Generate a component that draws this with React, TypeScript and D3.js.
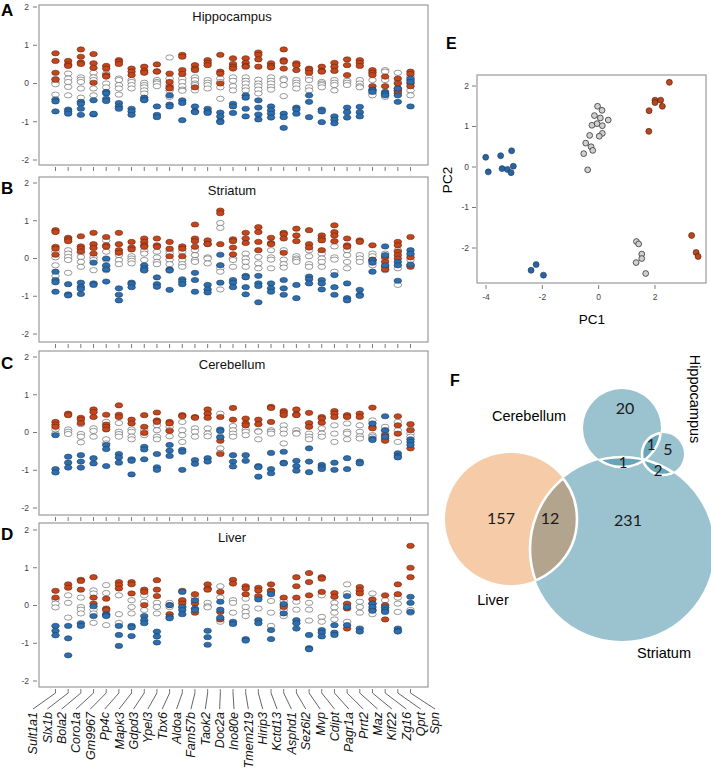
import React from "react";
import * as d3 from "d3";

const genes = ["Sult1a1","Slx1b","Bola2","Coro1a","Gm9967","Pp4c","Mapk3","Gdpd3","Ypel3","Tbx6","Aldoa","Fam57b","Taok2","Doc2a","Ino80e","Tmem219","Hirip3","Kctd13","Asphd1","Sez6l2","Mvp","Cdipt","Pagr1a","Prrt2","Maz","Kif22","Zg16","Qprt","Spn"];
const yTicks = [2, 1, 0, -1, -2];
const panelTitles = ["Hippocampus", "Striatum", "Cerebellum", "Liver"];
const panelLetters = ["A", "B", "C", "D"];

// Panel A – Hippocampus
const hippoRed = [[0.79,0.59,0.28,0.1],[0.59,0.5,0.46],[0.89,0.7,0.55,0.51],[0.77,0.53,0.41,0.02],[0.46,0.39,0.22,0.18],[0.61,0.57,0.51],[0.39,0.31,0.22],[0.44,0.33,0.28],[0.5,0.32,0.31],[0.26,0.04,-0.09,-0.13],[0.75,0.7,0.35,0.25],[0.48,0.39,0.35,-0.1],[0.61,0.54,0.48],[0.75,0.31,0.26,0],[0.66,0.51,0.44,0.39],[0.66,0.54,0.46,0.44],[0.81,0.75,0.63,0.44],[0.53,0.46,0.42],[0.89,0.61,0.57,0.39],[0.53,0.48,0.35],[0.39,0.35,0.28],[0.44,0.33,0.31],[0.54,0.44,0.33],[0.63,0.48,0.22],[0.61,0.54,0.46],[0.35,0.28,0.22,-0.07],[0.18,-0.07,-0.28],[0.13,0,-0.13,-0.19,-0.25],[0.31,0.25,0.09,0,-0.07]];
const hippoWhite = [[0.12,0.03,-0.02,-0.29],[0.26,0.13,0.04,-0.09,-0.31],[0.16,0.1,0.04,-0.13,-0.37],[0.28,0.16,0.09,-0.13,-0.31],[0.26,0,-0.1],[0.13,0.09,-0.04,-0.13,-0.29],[0.09,0.04,-0.04,-0.13],[0.02,-0.04,-0.1,-0.18,-0.26],[0.09,0.04,0,-0.07],[0.68,0.13,-0.04,-0.18,-0.35],[0.13,0.04,-0.07,-0.16,-0.19],[0.16,0.09,0,-0.04,-0.18],[0.09,0.02,-0.04,-0.13],[0.13,0.04,-0.1,-0.4],[0.16,0.07,-0.07,-0.18],[0.16,0.07,0,-0.1,-0.18],[0.1,0,-0.07,-0.16,-0.26],[0.16,0.07,0,-0.09,-0.16],[0.13,0.09,-0.04,-0.33],[0.09,0.02,-0.04,-0.13],[0.16,0.09,-0.1,-0.18],[0.04,0,-0.04,-0.1],[0.09,0.02,-0.04,-0.18],[0.07,0.02,-0.04],[0.09,0,-0.07,-0.1],[0.31,0.09,-0.26,-0.31],[0.35,0.31,0.09,-0.35],[0.28,0.04,-0.18],[0.18,-0.18,-0.31]];
const hippoBlue = [[-0.42,-0.47,-0.73],[-0.68,-0.73,-0.79],[-0.48,-0.53,-0.66,-0.82],[-0.44,-0.81,-0.79],[-0.22,-0.26,-0.4,-0.46],[-0.51,-0.6,-0.66],[-0.66,-0.73,-0.82],[-0.37,-0.42,-0.44],[-0.6,-0.82,-0.88],[-0.31,-0.55,-0.6],[-0.44,-0.51,-0.96],[-0.6,-0.73,-0.75],[-0.66,-0.73,-0.77],[-0.76,-0.86,-0.98,-1.01],[-0.53,-0.6,-0.77],[-0.31,-0.37,-0.66,-0.86],[-0.44,-0.63,-0.81,-0.94],[-0.6,-0.7,-0.79,-0.89],[-0.79,-0.88,-1.16],[-0.63,-0.68,-0.79],[-0.31,-0.48,-0.88],[-0.68,-0.73,-1.01],[-0.86,-0.95,-1.04],[-0.63,-0.75,-0.89],[-0.61,-0.75,-0.86],[-0.16,-0.18,-0.22],[-0.22,-0.26,-0.31],[-0.13,-0.31,-0.48],[0.13,0.04,-0.6]];

// Panel B – Striatum
const striRed = [[0.75,0.7,0.31,0.26,0.1],[0.55,0.51,0.46],[0.59,0.32,0.26,0.19],[0.68,0.38,0.28,0.13],[0.57,0.35,0.31],[0.68,0.38,0.22,0.15],[0.44,0.29,0.24],[0.53,0.44,0.35,0.31],[0.53,0.35,0.31],[0.44,0.26,0.06],[0.32,0.26,0.06],[0.9,0.53,0.46,0.31],[0.48,0.39,0.38],[1.27,1.2,0.38],[0.51,0.46,0.29,0.11],[0.68,0.53,0.41],[0.83,0.7,0.44,0.22],[0.55,0.41,0.38],[0.68,0.64,0.53,0.15],[0.79,0.61,0.46],[0.75,0.38,0.29],[0.61,0.53,0.48,0.22],[0.88,0.7,0.61,0.46],[0.53,0.35,0.31],[0.48,0.44],[0.35,-0.03,-0.06],[0.04,-0.09,-0.22,-0.29],[0.44,0.35,0.18,0.09,0],[0.57,0.03,-0.18,-0.22]];
const striWhite = [[0.18,0.03,-0.18,-0.46],[0.22,0.13,0.04,-0.04,-0.38],[0.15,0.04,-0.09,-0.22],[0.03,-0.04,-0.31],[0.48,0.18,-0.03,-0.22,-0.31],[0.09,-0.04,-0.15],[0.06,0,-0.06,-0.13],[0.2,0.13,-0.04,-0.32],[0.18,0.03,-0.09,-0.15],[0.2,0.13,-0.03,-0.15],[0.18,-0.04,-0.15,-0.22],[0.22,0.09,-0.04,-0.09],[0.03,0,-0.13],[0.94,0.81,-0.18,-0.26,-0.35,-0.82],[0,-0.04,-0.22],[0.13,0,-0.09,-0.22],[0.04,-0.13,-0.26],[0.22,0.03,-0.03,-0.26],[0.22,-0.03,-0.15,-0.24],[0.06,0,-0.04,-0.09],[0.22,0.06,-0.15,-0.22],[0.13,0,-0.09,-0.22],[0.32,0.03,-0.03,-0.35],[0.22,0.09,-0.09,-0.26],[0.09,0,-0.09],[0.13,0.06,-0.18],[0.13,0,-0.31],[0.22,-0.26,-0.7],[0.09,-0.04]];
const striBlue = [[-0.35,-0.57,-0.63,-0.88],[-0.68,-0.95,-0.98],[-0.64,-0.75,-0.81,-0.94],[-0.11,-0.66,-0.7],[0,-0.18,-0.29,-0.61],[-0.79,-0.96,-1.11],[-0.64,-0.68,-0.76],[-0.18,-0.26,-0.31],[-0.5,-0.68,-0.75],[-0.29,-0.32,-0.83],[-0.55,-0.61,-0.68],[-0.38,-0.57,-0.88],[-0.7,-0.82,-0.9],[0.1,-0.18,-0.64],[-0.57,-0.64,-0.76],[-0.46,-0.5,-0.76,-0.95],[-0.46,-0.66,-0.73,-1.16],[-0.66,-0.79,-0.88],[-0.57,-0.79,-0.96],[-0.7,-1.05],[-0.48,-0.55,-0.66],[-0.57,-0.66,-0.82],[-0.44,-0.76,-0.96],[-0.66,-1.05,-1.11],[-0.83,-0.96,-0.99],[-0.04,-0.11,-0.35],[0.32,0.09,-0.18],[-0.09,-0.18,-0.59],[0.22,0.13,-0.16]];

// Panel C – Cerebellum
const cereRed = [[0.28,0.21,0.15],[0.5,0.46],[0.39,0.34,0.25],[0.61,0.54,0.41],[0.47,0.21,0.15,0.08],[0.72,0.47,0.41],[0.34,0.24],[0.46,0.15,-0.01],[0.53,0.32,0.28],[0.28,0.24,0.04],[0.46,0.43],[0.41,0.39],[0.61,0.5,0.39],[0.41,-0.22,-0.57],[0.65,0.34],[0.37,0.24,0.19],[0.34,0.22],[0.68,0.65,0.28],[0.57,0.52,0.46],[0.61,0.48,0.46],[0.52,0.25,0.15],[0.41,0.37,0.26],[0.57,0.5,0.41],[0.46,0.41],[0.5,0.41],[0.66,0.15,0.11],[-0.07,-0.16,-0.22],[0.43,0.19,-0.03],[0.22,0.06,-0.42]];
const cereWhite = [[0.08,-0.03],[0.08,0.02,-0.04],[0.22,-0.04,-0.11,-0.26],[0.11,0.04,-0.11],[0.28,-0.18,-0.29],[0.25,0.02,-0.04,-0.11],[0.08,0.02,-0.11,-0.18],[0.06,-0.07],[0.19,0.06,-0.11,-0.18],[0.15,0.06,-0.1],[0.28,0.06,-0.07,-0.25],[0.11,0.02,-0.11],[0.11,-0.03,-0.1],[0.5,-0.11,-0.42,-0.54],[0.17,0.06,-0.03,-0.11],[0.08,0.02,-0.07],[0.04,0.02,-0.18],[0.06,0.02,-0.03],[0.19,0.08,-0.03,-0.29],[0.06,-0.01,-0.03],[-0.03,-0.11,-0.18],[0.11,-0.03,-0.11],[0.19,-0.03,-0.25],[0.24,0.02,-0.03,-0.18],[0.19,0.02,-0.1,-0.16],[0.32,-0.07,-0.11],[0.15,0.06,-0.03],[0.28,0.06,-0.25],[0.08,-0.03,-0.11]];
const cereBlue = [[-0.07,-0.97,-1.06],[-0.64,-0.8,-0.93],[-0.6,-0.77,-0.93],[-0.68,-0.82],[-0.33,-0.44,-0.89],[-0.57,-0.66,-0.8],[-0.71,-0.75,-1.11],[-0.38,-0.45,-0.71],[-0.57,-0.92,-0.99],[-0.33,-0.48,-0.62],[-0.46,-0.51,-0.99],[-0.73,-0.83],[-0.68,-0.77],[0.08,0.04,-0.13],[-0.6,-0.77,-0.9],[-0.6,-0.75],[-0.89,-0.92,-1.17],[-0.54,-0.97,-1.08],[-0.51,-0.8,-0.82],[-0.75,-0.89,-1.01],[-0.42,-0.77,-1.05],[-0.86,-0.92,-0.97],[-0.8,-0.99],[-0.68,-0.97],[-0.77,-0.82],[0.24,-0.16,-0.2],[0.43,0.06,-0.11],[-0.55,-0.62,-0.66],[-0.18,-0.25,-0.33]];

// Panel D – Liver
const liverRed = [[0.39,0.21],[0.56,0.47],[0.68,0.65,0.42],[0.75,0.21,0.05],[0.18,-0.08,-0.12],[0.62,0.54,0.45],[0.62,0.56,0.32],[0.42,0.36,0.01],[0.67,0.42,0.25],[0.01,-0.23],[0.39,0.14,0.05],[0.3,0.05,-0.19],[0.56,0.45,0.42],[0.36,-0.17,-0.37],[0.68,0.58],[0.51,0.45,0.3],[0.47,0.4,0.25],[0.56,0.4,0.36],[0.21,0.01,-0.04],[0.75,0.51,0.21],[0.86,0.62,0.27],[0.75,0.71,0.36],[0.33,0.23],[0.04,-0.08,-0.61],[0.49,0.4,0.32],[0.16,0.05,-0.11],[0.27,0.01,-0.37],[0.56,0.3],[1.58,1.0,0.75]];
const liverWhite = [[0.16,0.05,-0.05],[0.27,0.07,-0.32],[0.21,-0.04,-0.11,-0.21],[0.4,0.32,-0.11,-0.21,-0.46],[0.54,0.33,-0.52],[0.27,-0.23,-0.46],[0.14,-0.04,-0.21],[0.27,0.1,-0.12],[0.07,-0.04,-0.21],[0.07,-0.04],[0.1,-0.04],[0.21,0.1],[0.07,-0.02,-0.05],[0.51,0.21,-0.43],[0.14,0.07,-0.19],[0.18,-0.04,-0.17,-0.28],[0.21,-0.08],[0.12,-0.19,-0.54],[0.12,-0.12,-0.28],[0.1,-0.11],[0.07,-0.11,-0.4],[0.27,-0.3,-0.43],[0.07,-0.05,-0.19,-0.37],[0.56,0.32,0.05,-0.43],[0.1,-0.04,-0.19],[0.32,-0.23],[0.14,-0.04],[0.21,0.05,-0.17],[-0.12,-0.19]];
const liverBlue = [[-0.54,-0.67,-0.79],[-0.54,-0.87,-1.32],[-0.47,-0.54],[-0.02,-0.28],[-0.23,-0.25,-0.28],[-0.54,-0.78,-1.07],[-0.54,-0.58,-0.81],[-0.28,-0.39,-0.47],[-0.69,-0.82,-0.98],[0.01,-0.3,-0.34],[0.36,-0.04,-0.12,-0.23],[0.14,-0.08,-0.12],[-0.67,-0.84,-1.04],[0.1,-0.11,-0.32],[-0.43,-0.49],[-0.89,-0.93],[0.16,-0.39,-0.47],[0.3,-0.65,-0.89],[0.04,-0.21],[-0.39,-0.47,-0.61],[-0.78,-1.13,-1.16],[-0.65,-0.72,-0.82],[-0.52,-0.72,-0.78],[0.25,-0.04,-0.52],[-0.61,-0.69],[0.05,-0.04,-0.14],[-0.05,-0.12,-0.17],[-0.61,-0.67,-0.69],[0.23,0.07,-0.17]];

// Panel E – PCA
const pcaBlueX = [-4.01,-3.92,-3.48,-3.43,-3.24,-3.09,-3.03,-3.11,-2.40,-2.22,-1.96];
const pcaBlueY = [0.24,-0.12,0.28,-0.04,-0.06,0.40,0.02,-0.14,-2.55,-2.41,-2.67];
const pcaRedX = [2.51,1.79,2.0,2.0,2.2,2.26,1.78,3.30,3.46,3.53];
const pcaRedY = [2.09,1.39,1.65,1.59,1.65,1.50,0.88,-1.69,-2.11,-2.21];
const pcaGreyX = [-0.04,0.12,-0.15,0.06,0.34,-0.06,-0.24,0.13,-0.32,0.13,0.02,-0.46,-0.27,-0.21,-0.53,-0.39,1.34,1.42,1.53,1.53,1.33,1.67];
const pcaGreyY = [1.50,1.40,1.27,1.21,1.16,1.07,1.03,1.02,0.78,0.83,0.76,0.59,0.50,0.41,0.33,-0.07,-1.84,-1.90,-2.15,-2.26,-2.36,-2.63];
const pcaTicksX = [-4, -2, 0, 2];
const pcaTicksY = [-2, -1, 0, 1, 2];

// Panel F – Venn counts
const vennSetNames = ["Cerebellum", "Hippocampus", "Striatum", "Liver"];
const vennRegions = ["Cerebellum only", "Hippocampus only", "Striatum only", "Liver only", "Liver∩Striatum", "Cerebellum∩Striatum", "Cerebellum∩Hippocampus", "Hippocampus∩Striatum"];
const vennCounts = [20, 5, 231, 157, 12, 1, 1, 2];

// ---------- layout ----------
const W = 711, H = 773;
const FONT = "'Liberation Sans', Arial, sans-serif";
const plotLeft = 39, plotRight = 428;
const panels = [
  { y2: 7, ym2: 160, top: 5, bottom: 165, red: hippoRed, white: hippoWhite, blue: hippoBlue, titleY: 21, letterY: 16 },
  { y2: 183, ym2: 334, top: 177, bottom: 342, red: striRed, white: striWhite, blue: striBlue, titleY: 195, letterY: 194 },
  { y2: 357, ym2: 508, top: 351, bottom: 515, red: cereRed, white: cereWhite, blue: cereBlue, titleY: 369, letterY: 369 },
  { y2: 530, ym2: 681, top: 523, bottom: 687, red: liverRed, white: liverWhite, blue: liverBlue, titleY: 542, letterY: 540 },
];
const RED = "#c4471b", RED_S = "#6b2410";
const BLUE = "#2e6eae", BLUE_S = "#1b3f66";

const xGene = d3.scalePoint<string>().domain(genes).range([55.5, 410.5]);
const xLabel = d3.scalePoint<string>().domain(genes).range([33, 435]);

// PCA scales
const pcX = d3.scaleLinear().domain([-4, 2]).range([486, 655]);
const pcY = d3.scaleLinear().domain([-2, 2]).range([248, 86]);
const pcBox = { left: 477, right: 706, top: 75, bottom: 283 };

// Venn geometry (pixels)
const vennGeom: Record<string, { cx: number; cy: number; r: number }> = {
  Liver: { cx: 511, cy: 519, r: 66 },
  Striatum: { cx: 622, cy: 549, r: 92 },
  Cerebellum: { cx: 622, cy: 428, r: 39 },
  Hippocampus: { cx: 663, cy: 454, r: 21 },
};
const regionPos: [number, number][] = [[625, 414], [668, 455], [628, 526], [501, 524], [550, 524], [623, 468], [651, 450], [658, 476]];
const TEAL = "#9bc3cf", TEAL_D = "#68a5b8", PEACH = "#f6cba8", MIX = "#b3a48e";

function Panel({ p, idx }: { p: typeof panels[number]; idx: number }) {
  const y = d3.scaleLinear().domain([-2, 2]).range([p.ym2, p.y2]);
  const dots = (arr: number[][], fill: string, stroke: string, key: string) =>
    arr.flatMap((vals, i) =>
      vals.map((v, j) => (
        <ellipse key={`${key}-${i}-${j}`} cx={xGene(genes[i])} cy={y(v)} rx={3.8} ry={2.6} fill={fill} stroke={stroke} strokeWidth={0.6} />
      ))
    );
  return (
    <g>
      <rect x={plotLeft} y={p.top} width={plotRight - plotLeft} height={p.bottom - p.top} fill="none" stroke="#9a9a9a" strokeWidth={1.2} />
      {yTicks.map((t) => (
        <g key={t}>
          <line x1={33} x2={37} y1={y(t)} y2={y(t)} stroke="#555" strokeWidth={0.8} />
          <text x={29} y={y(t)} dy="0.35em" textAnchor="end" fontSize={8.5} fill="#444" fontFamily={FONT}>{t}</text>
        </g>
      ))}
      {genes.map((g) => (
        <line key={g} x1={xGene(g)} x2={xGene(g)} y1={p.bottom + 2} y2={p.bottom + 6} stroke="#555" strokeWidth={0.8} />
      ))}
      <text x={232} y={p.titleY} textAnchor="middle" fontSize={13} fontFamily={FONT} fill="#111">{panelTitles[idx]}</text>
      <text x={1} y={p.letterY} fontSize={17} fontWeight="bold" fontFamily={FONT} fill="#000">{panelLetters[idx]}</text>
      {dots(p.white, "#ffffff", "#555", "w")}
      {dots(p.red, RED, RED_S, "r")}
      {dots(p.blue, BLUE, BLUE_S, "b")}
    </g>
  );
}

export default function App() {
  const lastBottom = panels[3].bottom;
  const c = vennGeom;
  const circ = (k: string, props: any = {}) => <circle cx={c[k].cx} cy={c[k].cy} r={c[k].r} {...props} />;
  const lens = (a: string, b: string, fill: string, key: string) => (
    <g key={key}>
      {circ(a, { fill, clipPath: `url(#clip-${b})` })}
      {circ(a, { fill: "none", stroke: "#fff", strokeWidth: 2.6, clipPath: `url(#clip-${b})` })}
      {circ(b, { fill: "none", stroke: "#fff", strokeWidth: 2.6, clipPath: `url(#clip-${a})` })}
    </g>
  );
  return (
    <svg width={W} height={H} style={{ position: "absolute", left: 0, top: 0, background: "#fff" }} fontFamily={FONT}>
      <rect width={W} height={H} fill="#fff" />
      {panels.map((p, i) => <Panel key={i} p={p} idx={i} />)}

      {/* gene labels with connectors */}
      {genes.map((g) => (
        <g key={g}>
          <line x1={xGene(g)} y1={lastBottom + 6} x2={xLabel(g)} y2={709} stroke="#222" strokeWidth={0.7} />
          <text transform={`translate(${xLabel(g)},${712}) rotate(-90)`} dy="0.35em" textAnchor="end" fontSize={12.5} fontStyle="italic" fontFamily={FONT} fill="#111">{g}</text>
        </g>
      ))}

      {/* Panel E */}
      <text x={446} y={49} fontSize={16} fontWeight="bold" fontFamily={FONT}>E</text>
      <rect x={pcBox.left} y={pcBox.top} width={pcBox.right - pcBox.left} height={pcBox.bottom - pcBox.top} fill="none" stroke="#9a9a9a" strokeWidth={1.2} />
      {pcaTicksY.map((t) => (
        <g key={t}>
          <line x1={472} x2={476} y1={pcY(t)} y2={pcY(t)} stroke="#555" strokeWidth={0.8} />
          <text x={469} y={pcY(t)} dy="0.35em" textAnchor="end" fontSize={8.5} fill="#444">{t}</text>
        </g>
      ))}
      {pcaTicksX.map((t) => (
        <g key={t}>
          <line x1={pcX(t)} x2={pcX(t)} y1={285} y2={289} stroke="#555" strokeWidth={0.8} />
          <text x={pcX(t)} y={300} textAnchor="middle" fontSize={8.5} fill="#444">{t}</text>
        </g>
      ))}
      <text x={592} y={324} textAnchor="middle" fontSize={13.5}>PC1</text>
      <text transform="translate(452,180) rotate(-90)" textAnchor="middle" fontSize={13.5}>PC2</text>
      {pcaGreyX.map((v, i) => (
        <circle key={`g${i}`} cx={pcX(v)} cy={pcY(pcaGreyY[i])} r={2.9} fill="#cfcfcf" stroke="#333" strokeWidth={0.8} />
      ))}
      {pcaBlueX.map((v, i) => (
        <circle key={`b${i}`} cx={pcX(v)} cy={pcY(pcaBlueY[i])} r={3} fill="#2a63a0" stroke="#1a3a60" strokeWidth={0.6} />
      ))}
      {pcaRedX.map((v, i) => (
        <circle key={`r${i}`} cx={pcX(v)} cy={pcY(pcaRedY[i])} r={3} fill="#b8461e" stroke="#4a1a08" strokeWidth={0.6} />
      ))}

      {/* Panel F – Venn */}
      <defs>
        {vennSetNames.map((k) => (
          <clipPath id={`clip-${k}`} key={k}>{circ(k)}</clipPath>
        ))}
      </defs>
      <text x={450} y={386} fontSize={16} fontWeight="bold">F</text>
      {circ("Liver", { fill: PEACH })}
      {circ("Striatum", { fill: TEAL })}
      {circ("Cerebellum", { fill: TEAL })}
      {circ("Hippocampus", { fill: TEAL })}
      {lens("Liver", "Striatum", MIX, "ls")}
      {lens("Cerebellum", "Striatum", TEAL_D, "cs")}
      {lens("Cerebellum", "Hippocampus", TEAL_D, "ch")}
      {lens("Hippocampus", "Striatum", TEAL_D, "hs")}
      {vennCounts.map((n, i) => (
        <text key={vennRegions[i]} x={regionPos[i][0]} y={regionPos[i][1]} textAnchor="middle" fontSize={i === 5 || i === 6 || i === 7 ? 15 : 16} fontFamily="Lato, 'Open Sans', sans-serif" fill="#1a1a1a">{n}</text>
      ))}
      <text x={529} y={421} textAnchor="middle" fontSize={14.5}>Cerebellum</text>
      <text x={493} y={605} textAnchor="middle" fontSize={14.5}>Liver</text>
      <text x={664} y={658} textAnchor="middle" fontSize={14.5}>Striatum</text>
      <text transform="translate(690,399) rotate(90)" textAnchor="middle" fontSize={14.5}>Hippocampus</text>
    </svg>
  );
}
